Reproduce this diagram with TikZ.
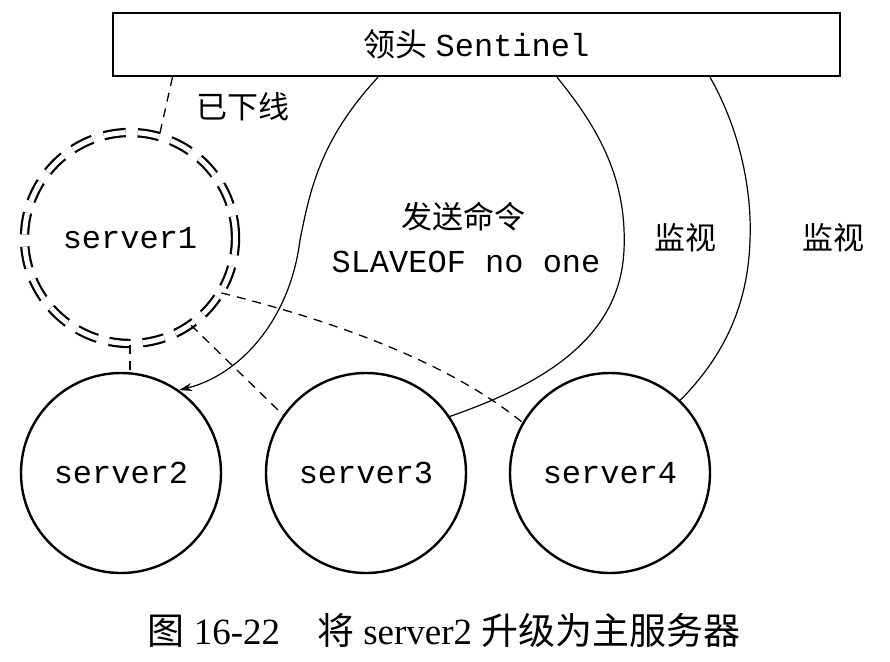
\documentclass[tikz,border=0pt]{standalone}
\usepackage{fontspec}
\setmainfont{Liberation Serif}
\setmonofont{Liberation Mono}
\newfontfamily\cjk{Noto Sans CJK SC}
\usetikzlibrary{arrows.meta}
\begin{document}
\begin{tikzpicture}
  [x=1pt, y=-1pt,
  server/.style = {circle, draw, line width=2.4pt,
                   minimum size=200pt, inner sep=0pt,
                   font=\fontsize{32}{32}\selectfont\ttfamily},
  offline/.style = {circle, draw, line width=2.2pt,
                    double, double distance=5pt,
                    dash pattern=on 22pt off 12pt,
                    minimum size=211pt, inner sep=0pt,
                    font=\fontsize{32}{32}\selectfont\ttfamily},
  link/.style = {line width=1.2pt},
  hint/.style = {line width=1.3pt, dash pattern=on 9pt off 7pt},
  zh/.style = {font=\fontsize{31}{31}\selectfont\cjk},
  code/.style = {font=\fontsize{32}{32}\selectfont\ttfamily}]
  \useasboundingbox (0,0) rectangle (890,661);
  % Sentinel
  \node[draw, line width=2.4pt, minimum width=727pt, minimum height=63pt,
        inner sep=0pt, font=\fontsize{32}{32}\selectfont] (leader) at (476.5,44.5)
        {{\cjk 领头}~{\ttfamily Sentinel}};
  % servers
  \node[offline] (s1) at (130,238) {server1};
  \node[server] (s2) at (121,473) {server2};
  \node[server] (s3) at (366,473) {server3};
  \node[server] (s4) at (610,473) {server4};
  % offline
  \draw[hint] ([xshift=-304pt]leader.south) -- (s1.74);
  \node[zh] (down) at (243,107) {已下线};
  % failover
  \draw[link, -{Stealth[length=13pt, width=8pt]}] ([xshift=-98.5pt]leader.south)
        .. controls (320,140) and (310,190) .. (300,240)
        .. controls (290,320) and (240,375) .. (s2.55);
  \node[zh] (cmd) at (463,217) {发送命令};
  \node[code] (slaveof) at (466,262) {SLAVEOF no one};
  % monitor
  \draw[link] ([xshift=80.5pt]leader.south)
        .. controls (600,130) and (627,180) .. (624,250)
        .. controls (620,340) and (540,385) .. (s3.34);
  \draw[link] ([xshift=233.5pt]leader.south)
        .. controls (740,130) and (752,190) .. (750,240)
        .. controls (748,310) and (720,360) .. (s4.46);
  \node[zh] (watch3) at (685,238) {监视};
  \node[zh] (watch4) at (833,238) {监视};
  % old replication
  \draw[hint] (s1.south) -- (s1.south |- s2.north);
  \draw[hint] (s1.-55) -- (s3.145);
  \draw[hint] (s1.-31) .. controls (310,315) and (440,355) .. (s4.150);
  % caption
  \node[font=\fontsize{37}{37}\selectfont] (caption) at (444,630)
        {{\cjk 图} 16-22\quad{\cjk 将} server2 {\cjk 升级为主服务器}};
\end{tikzpicture}
\end{document}
